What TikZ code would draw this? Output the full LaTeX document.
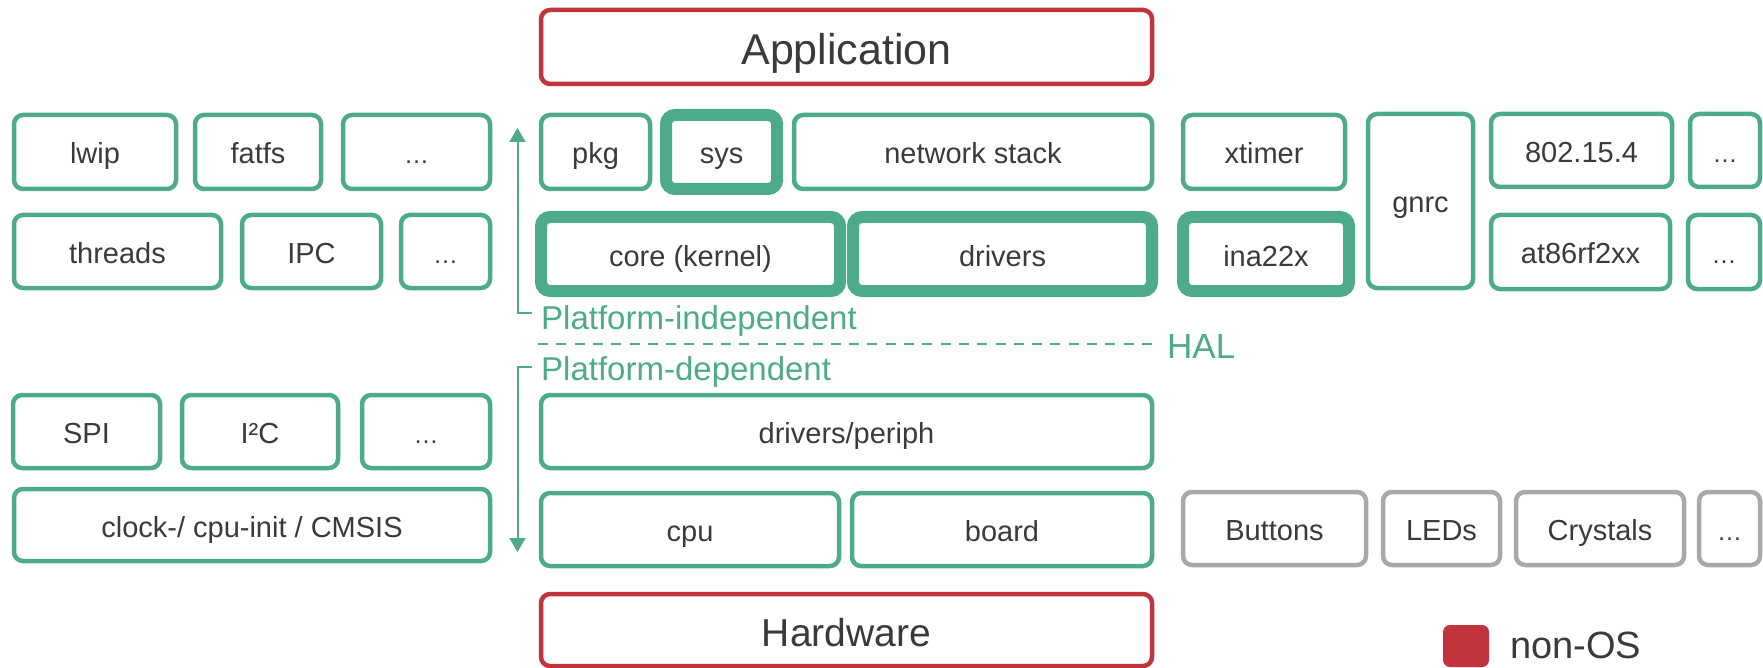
\documentclass[tikz,border=0pt]{standalone}
\usepackage{fontspec}
\setmainfont{Liberation Sans}
\usetikzlibrary{arrows.meta}
\definecolor{osgreen}{HTML}{4DAA8B}
\definecolor{osred}{HTML}{C1343D}
\definecolor{osgray}{HTML}{A9A9A9}
\definecolor{txtgray}{HTML}{3A3A3A}
\newcommand\mkbox[7]{\node[#6, minimum width={#4-#2}, minimum height={#5-#3}] (#1) at ({(#2+#4)/2},{(#3+#5)/2}) {#7};}
\newcommand\mydots{{\fontsize{25}{27}\selectfont …}}
\tikzset{
  basebox/.style={rounded corners=9pt, inner sep=0pt, text=txtgray,
    font=\fontsize{29}{31}\selectfont, text height=24pt, text depth=0pt},
  gbox/.style={basebox, draw=osgreen, line width=4.5pt},
  tbox/.style={basebox, draw=osgreen, line width=12pt},
  hwbox/.style={basebox, draw=osgray, line width=4.5pt},
  rbox/.style={basebox, draw=osred, line width=4.5pt},
  bigtext/.style={font=\fontsize{43}{46}\selectfont, text height=35pt},
  hwtext/.style={font=\fontsize{39}{42}\selectfont, text height=32.5pt},
  lbl/.style={inner sep=0pt, text=osgreen, anchor=west, text depth=0pt},
  arr/.style={draw=osgreen, line width=2pt, -{Triangle[width=16pt,length=14pt]}},
}
\begin{document}
\begin{tikzpicture}[x=1pt,y=-1pt]
\useasboundingbox (0,0) rectangle (1763,668);
% top / bottom (non-OS)
\mkbox{app}{541}{10}{1152}{84}{rbox,bigtext}{Application}
\mkbox{hw}{541}{594}{1152}{666}{rbox,hwtext}{Hardware}
% left column
\mkbox{lwip}{14}{115}{176}{189}{gbox}{lwip}
\mkbox{fatfs}{195}{115}{321}{189}{gbox}{fatfs}
\mkbox{dotsa}{343}{115}{490}{189}{gbox}{\mydots}
\mkbox{threads}{14}{215}{221}{288}{gbox}{threads}
\mkbox{ipc}{242}{215}{381}{288}{gbox}{IPC}
\mkbox{dotsb}{401}{215}{490}{288}{gbox}{\mydots}
\mkbox{spi}{13}{395}{160}{468}{gbox}{SPI}
\mkbox{iic}{182}{395}{338}{468}{gbox}{I²C}
\mkbox{dotsc}{362}{395}{490}{468}{gbox}{\mydots}
\mkbox{clock}{14}{489}{490}{561}{gbox}{clock-/ cpu-init / CMSIS}
% middle column
\mkbox{pkg}{541}{115}{650}{189}{gbox}{pkg}
\mkbox{sys}{666}{115}{777}{189}{tbox}{sys}
\mkbox{net}{794}{115}{1152}{189}{gbox}{network stack}
\mkbox{core}{541}{217}{840}{291}{tbox}{core (kernel)}
\mkbox{drv}{853}{217}{1152}{291}{tbox}{drivers}
\mkbox{periph}{541}{395}{1152}{468}{gbox}{drivers/periph}
\mkbox{cpu}{541}{493}{839}{566}{gbox}{cpu}
\mkbox{board}{852}{493}{1152}{566}{gbox}{board}
% right column
\mkbox{xtimer}{1183}{115}{1345}{189}{gbox}{xtimer}
\mkbox{gnrc}{1368}{114}{1473}{288}{gbox}{gnrc}
\mkbox{ieee}{1491}{114}{1672}{187}{gbox}{802.15.4}
\mkbox{dotsd}{1690}{114}{1760}{187}{gbox}{\mydots}
\mkbox{ina}{1183}{217}{1349}{291}{tbox}{ina22x}
\mkbox{at86}{1491}{215}{1670}{289}{gbox}{at86rf2xx}
\mkbox{dotse}{1688}{215}{1760}{289}{gbox}{\mydots}
\mkbox{buttons}{1183}{492}{1366}{565}{hwbox}{Buttons}
\mkbox{leds}{1383}{492}{1500}{565}{hwbox}{LEDs}
\mkbox{crystals}{1516}{492}{1684}{565}{hwbox}{Crystals}
\mkbox{dotsf}{1699}{492}{1760}{565}{hwbox}{\mydots}
% HAL separator
\coordinate (halL) at (538,344);
\coordinate (halR) at (1158,344);
\draw[osgreen, line width=2.5pt, dash pattern=on 10pt off 8.3pt] (halL) -- (halR);
\node[lbl, font=\fontsize{35}{38}\selectfont, text height=25pt] (hal) at (1167,346) {HAL};
% platform labels and arrows
\node[lbl, font=\fontsize{33}{36}\selectfont, text height=23.5pt] (pind) at (541,317.5) {Platform-independent};
\node[lbl, font=\fontsize{33}{36}\selectfont, text height=23.5pt] (pdep) at (541,369) {Platform-dependent};
\coordinate (ua) at (532,313);
\coordinate (ub) at (517.5,313);
\coordinate (uc) at (517.5,128);
\draw[arr] (ua) -- (ub) -- (uc);
\coordinate (da) at (532,367);
\coordinate (db) at (517.5,367);
\coordinate (dc) at (517.5,552);
\draw[arr] (da) -- (db) -- (dc);
% legend
\node[fill=osred, rounded corners=7pt, minimum width=46pt, minimum height=42pt, inner sep=0pt] (legsq) at (1466,646) {};
\node[lbl, text=txtgray, font=\fontsize{38}{40}\selectfont, text height=27pt] (legtx) at (1510,645) {non-OS};
\end{tikzpicture}
\end{document}
